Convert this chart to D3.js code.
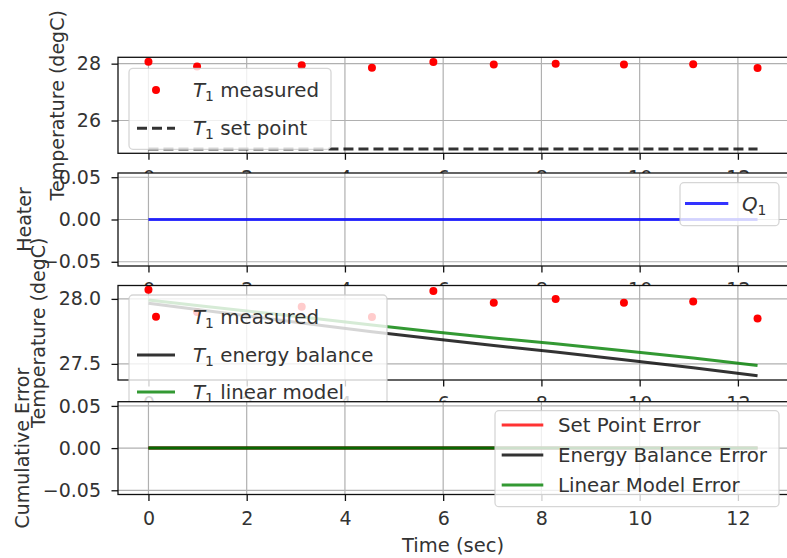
<!DOCTYPE html>
<html><head><meta charset="utf-8">
<script src="https://cdn.jsdelivr.net/npm/d3@7"></script>
<style>body{margin:0;background:#fff} svg{display:block} text{font-family:"DejaVu Sans",sans-serif;}</style>
</head><body>
<svg id="chart" width="787" height="558"></svg>
<script>
// ---- data ----
const time = [0, 0.99, 3.12, 4.55, 5.80, 7.03, 8.29, 9.68, 11.09, 12.40];
const T1measured = [28.07, 27.90, 27.94, 27.86, 28.06, 27.97, 28.00, 27.97, 27.98, 27.85];
const T1setPoint = [25.0, 25.0, 25.0, 25.0, 25.0, 25.0, 25.0, 25.0, 25.0, 25.0];
const Q1 = [0, 0, 0, 0, 0, 0, 0, 0, 0, 0];
const T1energyBalance = [27.966, 27.918, 27.815, 27.748, 27.693, 27.641, 27.592, 27.532, 27.470, 27.409];
const T1linearModel = [27.992, 27.950, 27.860, 27.799, 27.748, 27.700, 27.655, 27.601, 27.545, 27.487];
const setPointError = [0, 0, 0, 0, 0, 0, 0, 0, 0, 0];
const energyBalanceError = [0, 0, 0, 0, 0, 0, 0, 0, 0, 0];
const linearModelError = [0, 0, 0, 0, 0, 0, 0, 0, 0, 0];

const xTicks = [0, 2, 4, 6, 8, 10, 12];
const yTicksTemp1 = [26, 28];
const yTicksHeater = [-0.05, 0, 0.05];
const yTicksTemp2 = [27.5, 28.0];
const yTicksError = [-0.05, 0, 0.05];
const yLabels = ["Temperature (degC)", "Heater", "Temperature (degC)", "Cumulative Error"];
const xLabel = "Time (sec)";

// ---- layout / style ----
const FS = 19;
const LFS = 19.8;
const X_RANGE = [118, 788];
const svg = d3.select("#chart");

function padExtent(vals) {
  let [a, b] = d3.extent(vals);
  if (a === b) { a -= 0.05; b += 0.05; }
  const m = (b - a) * 0.05;
  return [a - m, b + m];
}
const x = d3.scaleLinear().domain(padExtent(time)).range(X_RANGE);

const panels = [
  { top: 57.3, bottom: 153.3, yTicks: yTicksTemp1, fmt: ".0f", yLabel: yLabels[0], yLabelX: 64,
    series: [
      { values: T1measured, kind: "marker", color: "#ff0000", label: { m: "T", sub: "1", rest: " measured" } },
      { values: T1setPoint, kind: "dash", color: "#000000", label: { m: "T", sub: "1", rest: " set point" } }
    ],
    legend: { x: 129, y: 68.3, w: 202, h: 81, rows: [90, 128.3], hx: [137, 175], tx: 193 } },
  { top: 173, bottom: 266, yTicks: yTicksHeater, fmt: ".2f", yLabel: yLabels[1], yLabelX: 31,
    series: [
      { values: Q1, kind: "line", color: "#0000ff", label: { m: "Q", sub: "1", rest: "" } }
    ],
    legend: { x: 680, y: 182.7, w: 99, h: 43, rows: [203.5], hx: [685, 728.3], tx: 742 } },
  { top: 285.5, bottom: 380, yTicks: yTicksTemp2, fmt: ".1f", yLabel: yLabels[2], yLabelX: 45,
    series: [
      { values: T1measured, kind: "marker", color: "#ff0000", label: { m: "T", sub: "1", rest: " measured" } },
      { values: T1energyBalance, kind: "line", color: "#000000", label: { m: "T", sub: "1", rest: " energy balance" } },
      { values: T1linearModel, kind: "line", color: "#008000", label: { m: "T", sub: "1", rest: " linear model" } }
    ],
    legend: { x: 129, y: 295, w: 258, h: 118, rows: [316.7, 355, 392], hx: [137, 175], tx: 193 } },
  { top: 401.7, bottom: 494.5, yTicks: yTicksError, fmt: ".2f", yLabel: yLabels[3], yLabelX: 29,
    series: [
      { values: setPointError, kind: "line", color: "#ff0000", label: "Set Point Error" },
      { values: energyBalanceError, kind: "line", color: "#000000", label: "Energy Balance Error" },
      { values: linearModelError, kind: "line", color: "#008000", label: "Linear Model Error" }
    ],
    legend: { x: 495, y: 410.7, w: 284, h: 96, rows: [425, 455, 485], hx: [501.7, 543.3], tx: 558 } }
];

function writeLabel(t, lab) {
  if (typeof lab === "string") { t.text(lab); return; }
  t.append("tspan").attr("font-style", "italic").text(lab.m);
  t.append("tspan").attr("font-size", LFS * 0.7).attr("dy", 4).text(lab.sub);
  if (lab.rest) t.append("tspan").attr("dy", -4).text(lab.rest);
}

panels.forEach((p, pi) => {
  const g = svg.append("g");
  const y = d3.scaleLinear().domain(padExtent(p.series.flatMap(s => s.values))).range([p.bottom, p.top]);
  // axes patch
  g.append("rect").attr("x", X_RANGE[0]).attr("y", p.top)
    .attr("width", X_RANGE[1] - X_RANGE[0]).attr("height", p.bottom - p.top).attr("fill", "#fff");
  // grid
  g.append("g").selectAll("line").data(xTicks).join("line")
    .attr("x1", d => x(d)).attr("x2", d => x(d)).attr("y1", p.top).attr("y2", p.bottom)
    .attr("stroke", "#b0b0b0").attr("stroke-width", 1.2);
  g.append("g").selectAll("line").data(p.yTicks).join("line")
    .attr("x1", X_RANGE[0]).attr("x2", X_RANGE[1]).attr("y1", d => y(d)).attr("y2", d => y(d))
    .attr("stroke", "#b0b0b0").attr("stroke-width", 1.2);
  // series
  p.series.forEach(s => {
    if (s.kind === "marker") {
      g.append("g").selectAll("circle").data(time).join("circle")
        .attr("cx", d => x(d)).attr("cy", (d, i) => y(s.values[i])).attr("r", 4).attr("fill", s.color);
    } else {
      g.append("path").datum(time)
        .attr("d", d3.line().x(d => x(d)).y((d, i) => y(s.values[i])))
        .attr("fill", "none").attr("stroke", s.color).attr("stroke-width", 3).attr("stroke-opacity", 0.8)
        .attr("stroke-dasharray", s.kind === "dash" ? "10,5" : null);
    }
  });
  // spines
  g.append("rect").attr("x", X_RANGE[0]).attr("y", p.top)
    .attr("width", X_RANGE[1] - X_RANGE[0]).attr("height", p.bottom - p.top)
    .attr("fill", "none").attr("stroke", "#111").attr("stroke-width", 1.3);
  // ticks & tick labels
  const ax = g.append("g").attr("transform", `translate(0,${p.bottom})`)
    .call(d3.axisBottom(x).tickValues(xTicks).tickFormat(d3.format("d")).tickSize(6.5).tickPadding(10.5));
  const ay = g.append("g").attr("transform", `translate(${X_RANGE[0]},0)`)
    .call(d3.axisLeft(y).tickValues(p.yTicks).tickFormat(d3.format(p.fmt)).tickSize(6.5).tickPadding(10.5));
  [ax, ay].forEach(a => {
    a.attr("font-size", FS).attr("font-family", "DejaVu Sans");
    a.select(".domain").remove();
    a.selectAll("line").attr("stroke", "#111").attr("stroke-width", 1.3);
    a.selectAll("text").attr("fill", "#333");
  });
  // y label
  g.append("text").attr("transform", `translate(${p.yLabelX},${(p.top + p.bottom) / 2}) rotate(-90)`)
    .attr("text-anchor", "middle").attr("font-size", FS).attr("fill", "#333").text(p.yLabel);
  // legend
  const L = p.legend;
  const lg = g.append("g");
  lg.append("rect").attr("x", L.x).attr("y", L.y).attr("width", L.w).attr("height", L.h)
    .attr("rx", 4).attr("fill", "#fff").attr("fill-opacity", 0.8)
    .attr("stroke", "#cccccc").attr("stroke-opacity", 0.8).attr("stroke-width", 1.3);
  p.series.forEach((s, i) => {
    const cy = L.rows[i];
    if (s.kind === "marker") {
      lg.append("circle").attr("cx", (L.hx[0] + L.hx[1]) / 2).attr("cy", cy).attr("r", 4).attr("fill", s.color);
    } else {
      lg.append("line").attr("x1", L.hx[0]).attr("x2", L.hx[1]).attr("y1", cy).attr("y2", cy)
        .attr("stroke", s.color).attr("stroke-width", 3).attr("stroke-opacity", 0.8)
        .attr("stroke-dasharray", s.kind === "dash" ? "10,5" : null);
    }
    const t = lg.append("text").attr("x", L.tx).attr("y", cy + 7).attr("font-size", LFS).attr("fill", "#333");
    writeLabel(t, s.label);
  });
  if (pi === panels.length - 1) {
    svg.append("text").attr("x", (X_RANGE[0] + X_RANGE[1]) / 2).attr("y", 552)
      .attr("text-anchor", "middle").attr("font-size", 19.5).attr("fill", "#333").text(xLabel);
  }
});
</script>
</body></html>
